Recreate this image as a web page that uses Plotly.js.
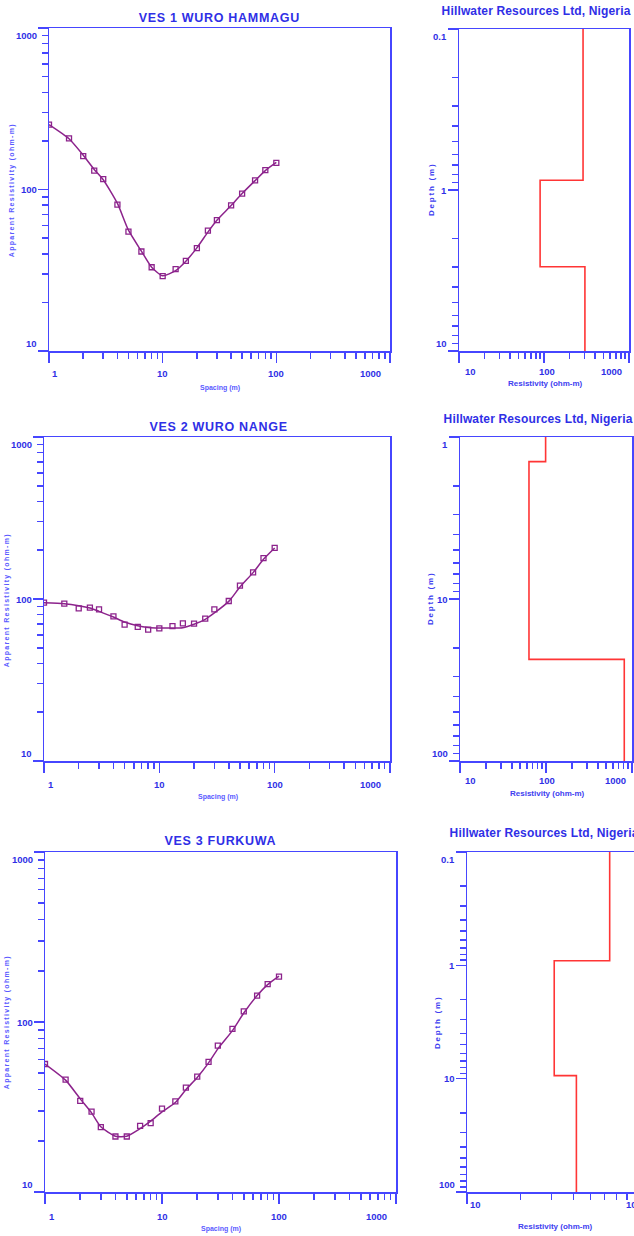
<!DOCTYPE html>
<html><head><meta charset="utf-8">
<script src="https://cdn.plot.ly/plotly-3.0.1.min.js"></script>
<style>
html,body{margin:0;padding:0;overflow:hidden;background:#fff;}
#chart{width:830px;height:1236px;}
g.annotation[data-index="0"] text, g.annotation[data-index="1"] text, g.annotation[data-index="2"] text{letter-spacing:0.7px;}
g.annotation[data-index="3"] text, g.annotation[data-index="4"] text, g.annotation[data-index="5"] text{letter-spacing:0.15px;}
g.annotation[data-index="9"] text, g.annotation[data-index="10"] text, g.annotation[data-index="11"] text{letter-spacing:1.3px;}
g.annotation[data-index="12"] text, g.annotation[data-index="13"] text, g.annotation[data-index="14"] text{letter-spacing:1.8px;}
</style></head>
<body><div id="chart"></div>
<script>
// ---------- data ----------
const spacing = [1,1.5,2,2.5,3,4,5,6.5,8,10,13,16,20,25,30,40,50,65,80,100];

const ves1Observed   = [252,207,161,131,116,80.5,54.8,41.3,33.0,29.1,32.1,36.1,43.3,55.6,64.7,79.7,94.2,114,132,146];
const ves1Calculated = [252,206,163,133,115,82,56,41.5,33,29.2,31.5,36,43.5,54.5,64.5,79.5,94.5,113.5,131,147];

const ves2Observed   = [94.9,93.6,87.6,88.4,86.4,78.2,69.5,67.2,64.7,65.9,68.1,70.8,70.4,75.6,86.4,97.2,121,146,179,206.6];
const ves2Calculated = [94.9,93.6,91,88,83.9,77.4,72.1,68.4,66.8,66.2,66.2,66.5,69.8,74.9,82,96.7,118.6,145.5,176,206.6];

const ves3Observed   = [56.6,45.8,34.4,29.7,24.1,21.2,21.2,24.5,25.4,30.9,34.1,41.1,47.7,58.2,72.6,91.0,115.5,143,167,185];
const ves3Calculated = [56.6,45.5,35.3,29.2,24.2,21.3,21.3,23.6,26.1,29.6,33.6,40,47.2,57.5,69.5,89,113,143,166,186];

// layered models: resistivity (ohm-m) and layer boundary depths (m)
const ves1LayerRes = [288, 90, 303];   const ves1LayerDepth = [0.87, 3.0];
const ves2LayerRes = [99, 63.4, 813];  const ves2LayerDepth = [1.42, 23.6];
const ves3LayerRes = [64, 31.1, 41.5]; const ves3LayerDepth = [0.91, 9.4];

// tick labels
const spacingTicks = [1,10,100,1000];      const spacingTickText = ['1','10','100','1000'];
const rhoTicks = [10,100,1000];            const rhoTickText = ['10','100','1000'];
const resTicks = [10,100,1000];            const resTickText = ['10','100','1000'];
const depthTicks1 = [0.1,1,10];            const depthTickText1 = ['0.1','1','10'];
const depthTicks2 = [1,10,100];            const depthTickText2 = ['1','10','100'];
const depthTicks3 = [0.1,1,10,100];        const depthTickText3 = ['0.1','1','10','100'];

const titlesVES = ['VES 1 WURO HAMMAGU','VES 2 WURO NANGE','VES 3 FURKUWA'];
const titleCompany = 'Hillwater Resources Ltd, Nigeria';

// ---------- style ----------
const W = 830, H = 1236;
const BLUE = '#4646ff', TXT = '#2f2fe6', PURPLE = '#8c238c', RED = '#ff3535';
const FONT = 'Liberation Sans, Arial, sans-serif';

function px2x(a,b){return [a/W, b/W];}
function px2y(t,b){return [1-b/H, 1-t/H];}
function minorTicks(lo, hi){ // decades lo..hi (exponents)
  const v=[]; for(let e=lo;e<hi;e++){ for(let d=2;d<=9;d++){ v.push(+(d*Math.pow(10,e)).toPrecision(3)); } } return v;
}
function axName(l,n){return l+'axis'+(n===1?'':n);}
function axRef(l,n){return l+(n===1?'':n);}

const panels = [
  {x:[49,390],  y:[28,351],   xr:[0,3], yr:[1,3],  xt:spacingTicks, xtt:spacingTickText, yt:rhoTicks, ytt:rhoTickText, xm:[0,3], ym:[1,3], top:[10,100], right:[100], xlab:22, first:1, last:-7, mid:0},
  {x:[459,629], y:[29,351],   xr:[1,3], yr:[1,-1], xt:resTicks, xtt:resTickText, yt:depthTicks1, ytt:depthTickText1, xm:[1,3], ym:[-1,1], top:[100], right:[1], xlab:20, first:4, last:-5, mid:3},
  {x:[44,390],  y:[437,761],  xr:[0,3], yr:[1,3],  xt:spacingTicks, xtt:spacingTickText, yt:rhoTicks, ytt:rhoTickText, xm:[0,3], ym:[1,3], top:[10,100], right:[100], xlab:23, first:2, last:-7, mid:0},
  {x:[460,632], y:[437,761],  xr:[1,3], yr:[2,0],  xt:resTicks, xtt:resTickText, yt:depthTicks2, ytt:depthTickText2, xm:[1,3], ym:[0,2], top:[100], right:[10], xlab:19, first:3, last:-4, mid:1},
  {x:[45,396],  y:[852,1192], xr:[0,3], yr:[1,3],  xt:spacingTicks, xtt:spacingTickText, yt:rhoTicks, ytt:rhoTickText, xm:[0,3], ym:[1,3], top:[10,100], right:[100], xlab:24, first:2, last:-7, mid:0},
  {x:[467,821], y:[852,1192], xr:[1,3], yr:[2,-1], xt:resTicks, xtt:resTickText, yt:depthTicks3, ytt:depthTickText3, xm:[1,3], ym:[-1,2], top:[100], right:[1], xlab:12, first:1, last:-5, mid:-10}
];

const layout = {width:W, height:H, margin:{l:0,r:0,t:0,b:0}, paper_bgcolor:'#fff', plot_bgcolor:'#fff', showlegend:false, annotations:[]};
const tickfont = {family:FONT, size:9.5, color:TXT, weight:'bold'};

panels.forEach((p,k)=>{
  const i=k+1, n=k+7;
  const common = {type:'log', showgrid:false, zeroline:false, showline:true, linecolor:BLUE, linewidth:1.5, mirror:true,
    ticks:'outside', ticklen:10, tickwidth:1.5, tickcolor:BLUE, showticklabels:false, fixedrange:true};
  layout[axName('x',i)] = Object.assign({}, common, {domain:px2x(p.x[0],p.x[1]), range:p.xr, anchor:axRef('y',i),
    tickmode:'array', tickvals:p.xt,
    minor:{tickmode:'array', tickvals:minorTicks(p.xm[0],p.xm[1]), ticks:'outside', ticklen:6, tickwidth:1.5, tickcolor:BLUE, showgrid:false}});
  layout[axName('y',i)] = Object.assign({}, common, {domain:px2y(p.y[0],p.y[1]), range:p.yr, anchor:axRef('x',i),
    tickmode:'array', tickvals:p.yt,
    minor:{tickmode:'array', tickvals:minorTicks(p.ym[0],p.ym[1]), ticks:'outside', ticklen:6, tickwidth:1.5, tickcolor:BLUE, showgrid:false}});
  // inward major ticks on top and right
  layout[axName('x',n)] = {type:'log', range:p.xr, overlaying:axRef('x',i), anchor:axRef('y',i), side:'top',
    ticks:'inside', ticklen:10, tickwidth:1.5, tickcolor:BLUE, tickmode:'array', tickvals:p.top,
    showticklabels:false, showline:false, showgrid:false, zeroline:false, fixedrange:true};
  layout[axName('y',n)] = {type:'log', range:p.yr, overlaying:axRef('y',i), anchor:axRef('x',i), side:'right',
    ticks:'inside', ticklen:10, tickwidth:1.5, tickcolor:BLUE, tickmode:'array', tickvals:p.right,
    showticklabels:false, showline:false, showgrid:false, zeroline:false, fixedrange:true};
});

// ---------- traces ----------
const traces = [];
function addSounding(obs, calc, i){
  traces.push({type:'scatter', mode:'lines', x:spacing, y:calc, xaxis:axRef('x',i), yaxis:axRef('y',i),
    line:{color:PURPLE, width:1.5, shape:'spline', smoothing:0.6}, hoverinfo:'x+y'});
  traces.push({type:'scatter', mode:'markers', x:spacing, y:obs, xaxis:axRef('x',i), yaxis:axRef('y',i),
    marker:{symbol:'square-open', size:5, color:PURPLE, line:{width:1.3, color:PURPLE}}, hoverinfo:'x+y'});
}
function addModel(res, depth, topDepth, bottomDepth, i){
  const xs=[], ys=[]; let prev = topDepth;
  for(let j=0;j<res.length;j++){
    const next = j<depth.length ? depth[j] : bottomDepth;
    xs.push(res[j], res[j]); ys.push(prev, next); prev = next;
  }
  traces.push({type:'scatter', mode:'lines', x:xs, y:ys, xaxis:axRef('x',i), yaxis:axRef('y',i),
    line:{color:RED, width:1.6}, hoverinfo:'x+y'});
}
addSounding(ves1Observed, ves1Calculated, 1);
addModel(ves1LayerRes, ves1LayerDepth, depthTicks1[0], depthTicks1[depthTicks1.length-1], 2);
addSounding(ves2Observed, ves2Calculated, 3);
addModel(ves2LayerRes, ves2LayerDepth, depthTicks2[0], depthTicks2[depthTicks2.length-1], 4);
addSounding(ves3Observed, ves3Calculated, 5);
addModel(ves3LayerRes, ves3LayerDepth, depthTicks3[0], depthTicks3[depthTicks3.length-1], 6);

// ---------- text ----------
function ann(text, x, y, font, extra){
  layout.annotations.push(Object.assign({text:text, xref:'paper', yref:'paper', x:x/W, y:1-y/H,
    xanchor:'center', yanchor:'middle', showarrow:false, font:font}, extra||{}));
}
const titleFont = {family:FONT, size:12.5, color:TXT, weight:'bold'};
const coFont = {family:FONT, size:12, color:TXT, weight:'bold'};
ann(titlesVES[0], 219, 18, titleFont);
ann(titlesVES[1], 218, 427, titleFont);
ann(titlesVES[2], 220, 841, titleFont);
ann(titleCompany, 536, 11, coFont);
ann(titleCompany, 538, 419, coFont);
ann(titleCompany, 450, 833, coFont, {xanchor:'left'});
const spFont = {family:FONT, size:7, color:'#5a5aff', weight:'bold'};
ann('Spacing (m)', 220, 388, spFont);
ann('Spacing (m)', 218, 797, spFont);
ann('Spacing (m)', 221, 1229, spFont);
const arFont = {family:FONT, size:7, color:'#5a5aff', weight:'bold'};
ann('Apparent Resistivity (ohm-m)', 12, 190, arFont, {textangle:-90});
ann('Apparent Resistivity (ohm-m)', 7, 600, arFont, {textangle:-90});
ann('Apparent Resistivity (ohm-m)', 7, 1022, arFont, {textangle:-90});
const dFont = {family:FONT, size:8, color:'#4040f0', weight:'bold'};
ann('Depth (m)', 431, 189, dFont, {textangle:-90});
ann('Depth (m)', 430, 598, dFont, {textangle:-90});
ann('Depth (m)', 437, 1022, dFont, {textangle:-90});
ann('Resistivity (ohm-m)', 545, 383, dFont);
ann('Resistivity (ohm-m)', 547, 793, dFont);
ann('Resistivity (ohm-m)', 555, 1226, dFont);

// tick labels placed on the axes' own log scales (end labels kept inside the frame)
panels.forEach((p,k)=>{
  const i=k+1, xref=axRef('x',i), yref=axRef('y',i);
  p.xt.forEach((v,j)=>{
    const lv=Math.log10(v); let xanchor='center', xshift=p.mid;
    if(Math.abs(lv-p.xr[0])<1e-9){xanchor='left'; xshift=p.first;}
    else if(Math.abs(lv-p.xr[1])<1e-9){xanchor='right'; xshift=p.last;}
    layout.annotations.push({text:p.xtt[j], xref:xref, yref:'paper', x:lv, y:1-(p.y[1]+p.xlab)/H,
      xanchor:xanchor, yanchor:'middle', xshift:xshift, showarrow:false, font:tickfont});
  });
  p.yt.forEach((v,j)=>{
    const lv=Math.log10(v); let yanchor='middle';
    if(Math.abs(lv-p.yr[1])<1e-9) yanchor='top';
    else if(Math.abs(lv-p.yr[0])<1e-9) yanchor='bottom';
    layout.annotations.push({text:p.ytt[j], xref:'paper', yref:yref, x:(p.x[0]-10)/W, y:lv,
      xanchor:'right', yanchor:yanchor, showarrow:false, font:tickfont});
  });
});

Plotly.newPlot('chart', traces, layout, {displayModeBar:false, staticPlot:true});
</script></body></html>
